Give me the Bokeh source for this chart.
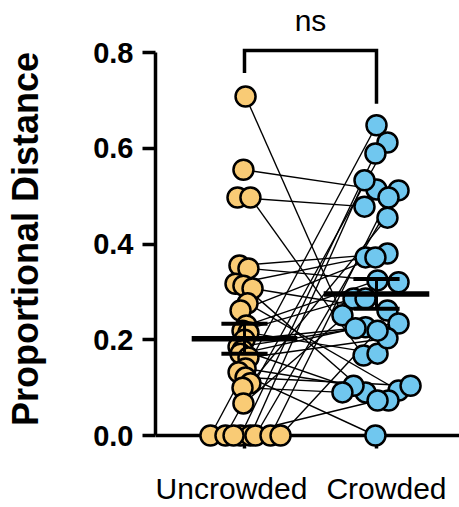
from bokeh.plotting import figure
from bokeh.models import Range1d, Label, FixedTicker, CustomJSTickFormatter, LinearAxis
from bokeh.embed import file_html
from bokeh.resources import INLINE
import numpy as np

# ---------------- data ----------------
categories = ["Uncrowded", "Crowded"]
# paired values: uncrowded[i] <-> crowded[i]
uncrowded = [0.708, 0.555, 0.497, 0.497, 0.355, 0.349, 0.317, 0.313, 0.307, 0.276,
             0.261, 0.230, 0.219, 0.215, 0.200, 0.185, 0.178, 0.171, 0.163, 0.140,
             0.132, 0.121, 0.109, 0.100, 0.067, 0.0, 0.0, 0.0, 0.0, 0.0,
             0.0, 0.0, 0.0]
crowded = [0.251, 0.514, 0.478, 0.167, 0.380, 0.320, 0.372, 0.090, 0.261, 0.094,
           0.372, 0.324, 0.286, 0.171, 0.234, 0.226, 0.073, 0.224, 0.203, 0.104,
           0.000, 0.104, 0.455, 0.090, 0.286, 0.648, 0.612, 0.589, 0.533, 0.512,
           0.497, 0.219, 0.073]
# horizontal scatter offsets (category units)
uncrowded_jitter = [0.008, -0.008, -0.053, 0.045, -0.038, 0.030, -0.068, -0.008, 0.061, 0.023,
                    -0.030, 0.015, -0.015, 0.030, 0.0, -0.045, -0.015, -0.030, 0.030, 0.008,
                    -0.045, 0.008, 0.045, -0.015, -0.008, -0.258, -0.144, -0.030, 0.045, 0.083,
                    0.197, 0.273, -0.083]
crowded_jitter = [-0.258, 0.0, -0.091, -0.098, 0.083, 0.167, -0.083, -0.083, 0.083, 0.167,
                  -0.008, 0.008, -0.174, 0.008, 0.167, -0.083, 0.091, -0.159, 0.083, -0.174,
                  -0.008, 0.258, 0.083, -0.258, -0.083, 0.0, 0.083, -0.008, -0.091, 0.167,
                  0.091, 0.008, 0.008]
y_ticks = [0.0, 0.2, 0.4, 0.6, 0.8]
y_label = "Proportional Distance"
sig_label = "ns"

# ---------------- figure ----------------
W, H = 459, 507
FONT = "Liberation Sans"
YELLOW = "#F9CB75"
BLUE = "#70C7EF"

FB = 477            # frame bottom (px)
PPU = 478.75        # px per y unit
y_start = -(FB - 435) / PPU
y_end = 435 / PPU

p = figure(width=W, height=H, output_backend="svg", toolbar_location=None,
           x_range=Range1d(0.3258, 2.6288), y_range=Range1d(y_start, y_end),
           min_border_left=155, min_border_right=0, min_border_top=0,
           min_border_bottom=H - FB)
p.outline_line_color = None
p.xgrid.visible = False
p.ygrid.visible = False
p.background_fill_color = "white"
p.border_fill_color = "white"
# shifted range used only to place the category names
p.extra_x_ranges = {"lab": Range1d(0.5097, 2.471)}

# y axis
ya = p.yaxis[0]
ya.ticker = FixedTicker(ticks=y_ticks)
ya.bounds = (0, 0.8)
ya.formatter = CustomJSTickFormatter(code="return tick.toFixed(1);")
ya.minor_tick_line_color = None
ya.major_tick_in = 0
ya.major_tick_out = 13
ya.major_tick_line_width = 3.5
ya.axis_line_width = 3.5
ya.major_label_standoff = 9
ya.major_label_text_font = FONT
ya.major_label_text_font_style = "bold"
ya.major_label_text_font_size = "29px"
ya.major_label_text_color = "black"
ya.axis_label = y_label
ya.axis_label_text_font = FONT
ya.axis_label_text_font_style = "bold"
ya.axis_label_text_font_size = "36px"
ya.axis_label_text_color = "black"
ya.axis_label_standoff = 44

# category-name axis (below), no line / ticks
lab = p.xaxis[0]
lab.x_range_name = "lab"
lab.ticker = FixedTicker(ticks=[1, 2])
lab.major_label_overrides = {1: categories[0], 2: categories[1]}
lab.axis_line_color = None
lab.major_tick_line_color = None
lab.minor_tick_line_color = None
lab.major_tick_in = 0
lab.major_tick_out = 0
lab.major_label_standoff = -6
lab.major_label_text_font = FONT
lab.major_label_text_font_size = "30px"
lab.major_label_text_color = "black"

# x axis line with ticks drawn at y = 0 (ticks pointing down)
xa = LinearAxis(ticker=FixedTicker(ticks=[1, 2]), fixed_location=0, level="underlay",
                major_tick_in=13, major_tick_out=0, major_tick_line_width=3.5,
                axis_line_width=3.5, minor_tick_line_color=None,
                major_label_overrides={1: "", 2: ""}, major_label_text_font_size="0px",
                major_label_standoff=0)
p.add_layout(xa, "above")

u = np.array(uncrowded)
c = np.array(crowded)
ux = 1 + np.array(uncrowded_jitter)
cx = 2 + np.array(crowded_jitter)

# paired lines
p.segment(x0=ux, y0=u, x1=cx, y1=c, line_color="black", line_width=1.4)

# points
p.scatter(ux, u, marker="circle", size=20, fill_color=YELLOW, line_color="black", line_width=2.5)
p.scatter(cx, c, marker="circle", size=20, fill_color=BLUE, line_color="black", line_width=2.5)

# mean +/- SEM
for xc, arr in [(1, u), (2, c)]:
    m = arr.mean()
    se = arr.std(ddof=1) / np.sqrt(len(arr))
    p.segment(x0=[xc], x1=[xc], y0=[m - se], y1=[m + se], line_color="black", line_width=3)
    p.segment(x0=[xc - 0.175] * 2, x1=[xc + 0.175] * 2, y0=[m - se, m + se], y1=[m - se, m + se],
              line_color="black", line_width=4)
    p.segment(x0=[xc - 0.4], x1=[xc + 0.4], y0=[m], y1=[m], line_color="black", line_width=5.5)

# significance bracket
top = 0.804
p.line(x=[1, 1, 2, 2], y=[u.max() + 0.049, top, top, c.max() + 0.045], line_color="black",
       line_width=3.5, line_join="miter")
p.add_layout(Label(x=1.5, y=top, y_offset=30, text=sig_label, text_align="center",
                   text_baseline="alphabetic", text_font=FONT, text_font_size="30px",
                   text_color="black"))

open("out.html", "w").write(file_html(p, INLINE))
